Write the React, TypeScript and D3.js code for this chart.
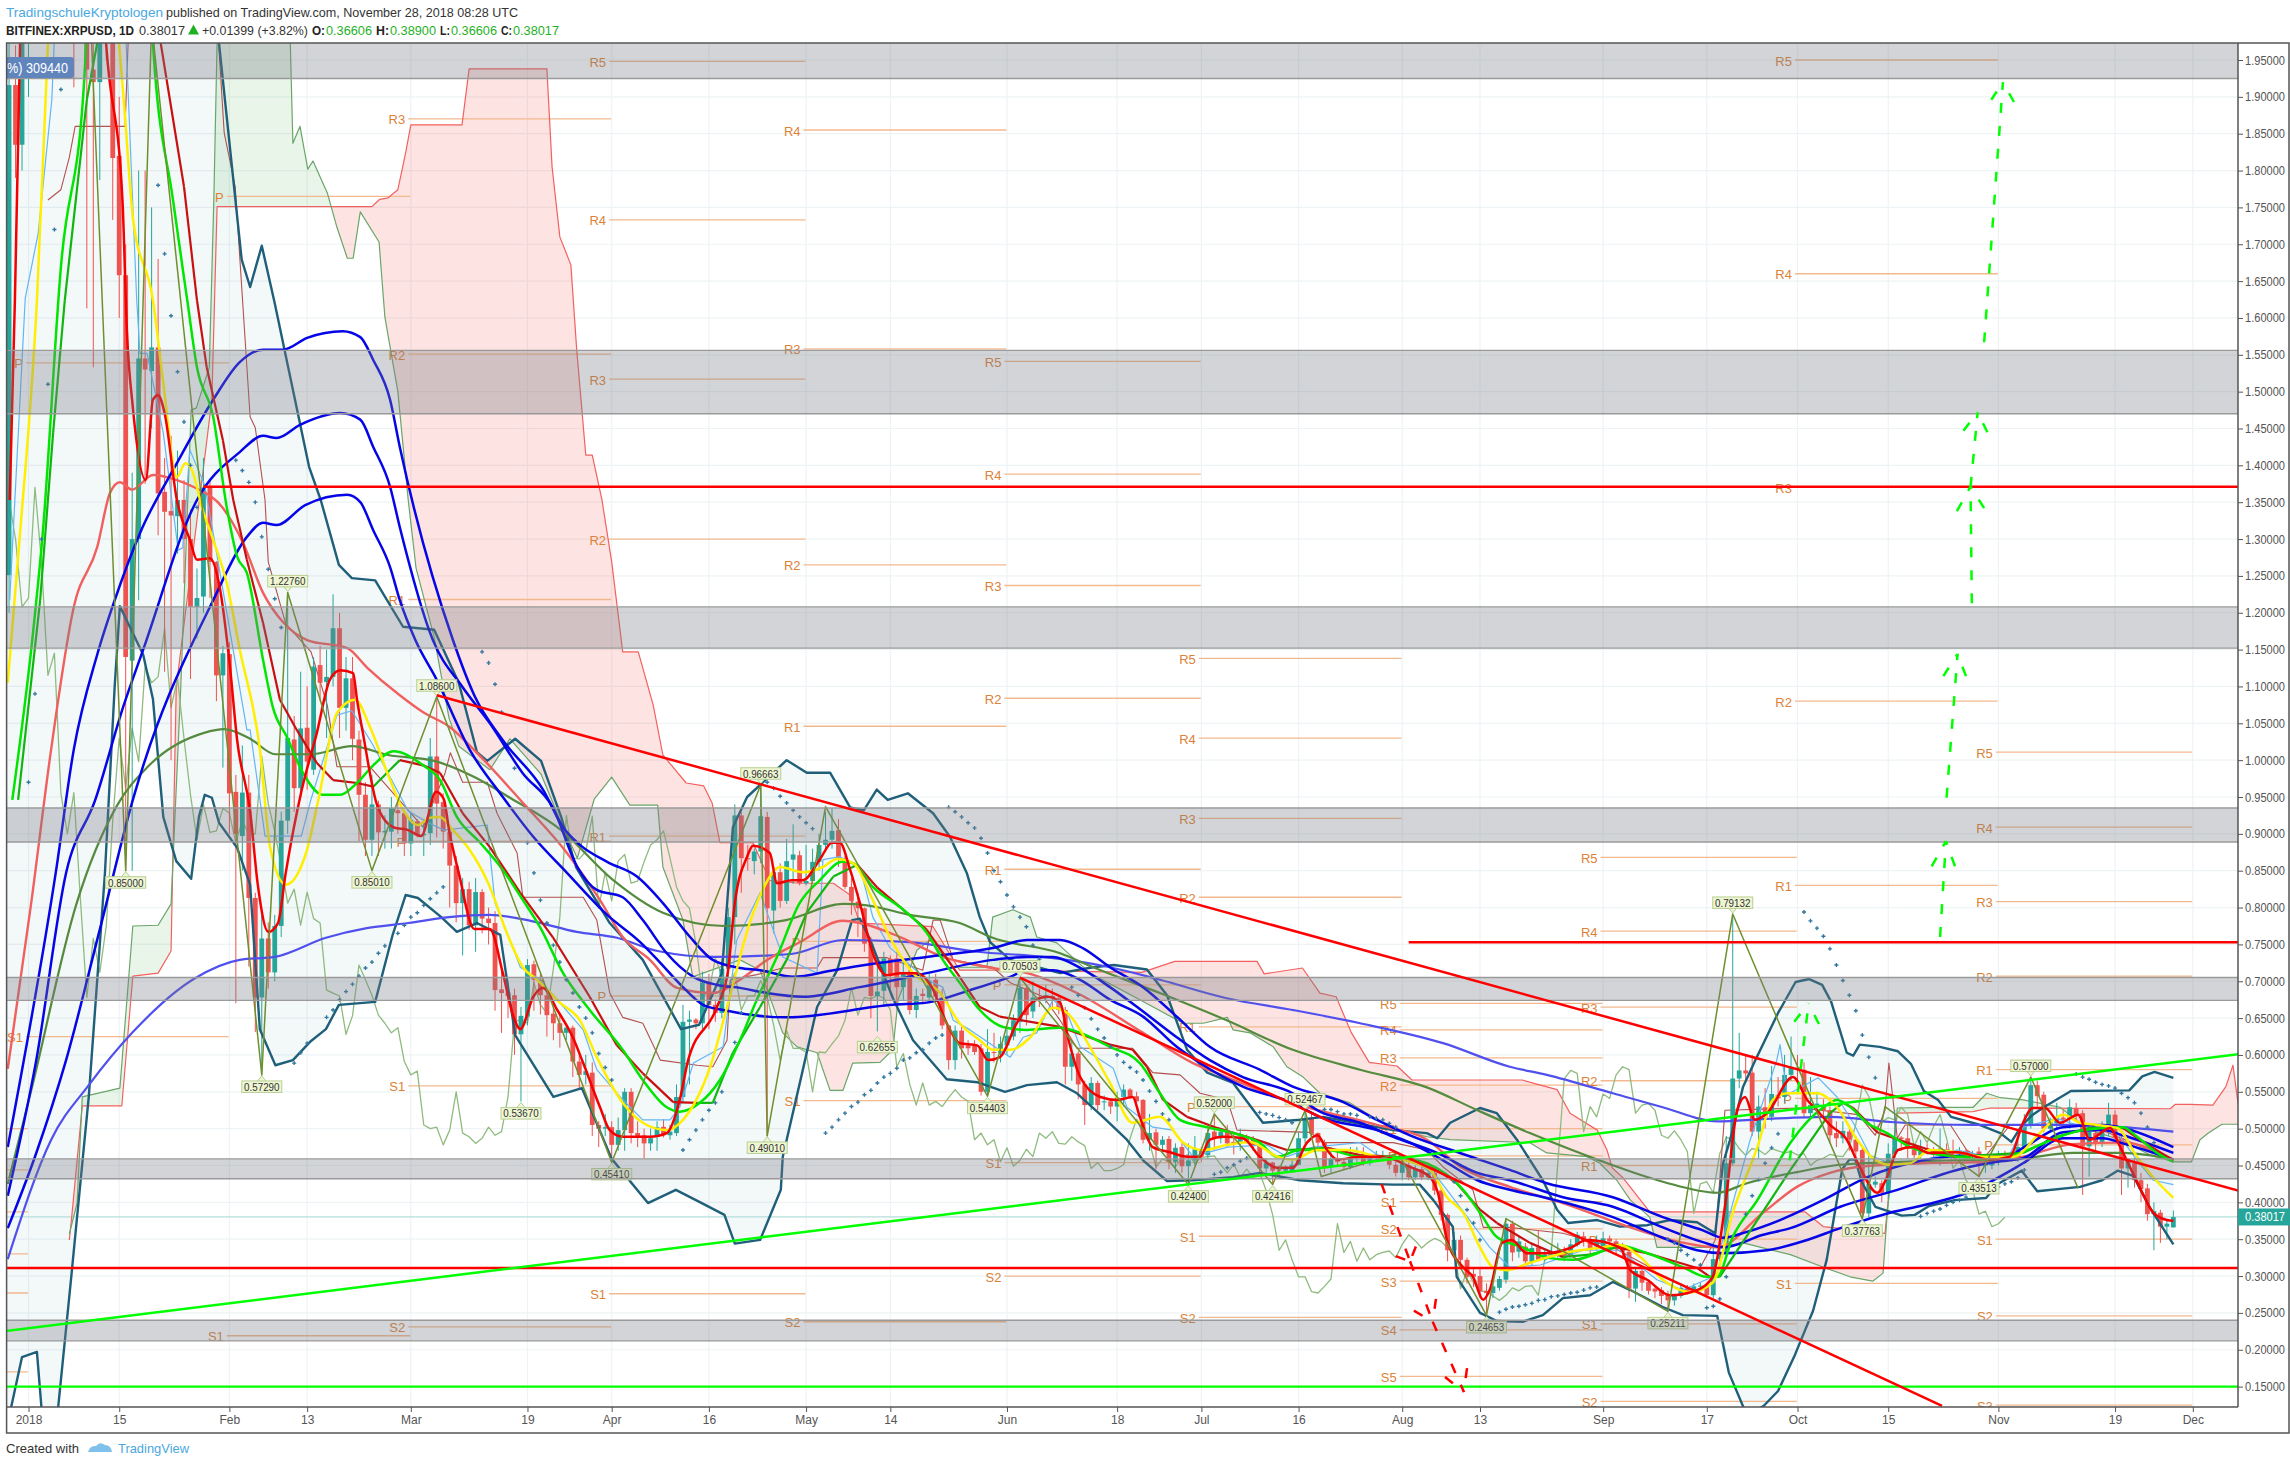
import React, { useEffect, useRef } from "react";
import * as d3 from "d3";

type Pt = [number, number];

// days are counted from Jan 1 2018 = 0
const firstCandleDay = -3;

const candleOpen = [
  1.251,1.916,1.835,1.98,2.3,2.45,2.9,3.05,3.1,2.95,
  3.0,2.4,2.2,1.937,1.92,2.05,2.05,1.82,1.658,1.135,
  1.30,1.545,1.528,1.56,1.364,1.338,1.331,1.353,1.30,1.208,
  1.222,1.37,1.269,1.115,1.144,.957,.897,.956,.813,.678,
  .758,.712,.775,.918,1.028,.962,1.044,.987,1.129,1.106,
  1.113,1.179,1.071,1.111,1.028,.953,.892,.940,.902,.903,
  .932,.928,.887,.917,.898,.901,1.005,.943,.903,.857,
  .806,.825,.776,.821,.785,.779,.689,.685,.681,.628,
  .652,.723,.702,.681,.656,.643,.630,.637,.591,.573,
  .576,.505,.500,.502,.478,.498,.550,.494,.491,.480,
  .489,.5025,.491,.494,.543,.645,.648,.643,.698,.668,
  .657,.717,.787,.925,.867,.863,.876,.923,.796,.848,
  .809,.865,.871,.833,.836,.862,.885,.892,.905,.867,
  .828,.808,.799,.751,.680,.687,.730,.731,.692,.711,
  .661,.683,.678,.702,.678,.640,.593,.633,.613,.613,
  .609,.550,.604,.603,.613,.625,.645,.691,.659,.678,
  .677,.680,.677,.661,.584,.602,.560,.532,.562,.537,
  .537,.530,.543,.553,.544,.539,.485,.495,.478,.486,
  .455,.475,.449,.457,.472,.464,.496,.487,.496,.482,
  .480,.489,.485,.478,.446,.454,.445,.443,.441,.451,
  .487,.513,.494,.481,.448,.459,.455,.448,.461,.464,
  .453,.461,.461,.462,.451,.440,.450,.434,.445,.434,
  .440,.416,.383,.335,.349,.322,.303,.300,.280,.277,
  .284,.295,.371,.333,.340,.319,.339,.322,.329,.332,
  .333,.327,.342,.354,.349,.340,.340,.351,.347,.342,
  .333,.283,.307,.292,.283,.281,.275,.267,.273,.284,
  .280,.286,.287,.274,.323,.331,.453,.568,.579,.576,
  .496,.529,.516,.546,.543,.573,.583,.580,.521,.532,
  .531,.525,.494,.487,.496,.485,.471,.385,.424,.426,
  .413,.466,.488,.487,.472,.464,.473,.470,.464,.472,
  .470,.466,.470,.464,.469,.450,.450,.457,.465,.466,
  .461,.473,.505,.559,.546,.500,.507,.515,.513,.528,
  .521,.476,.494,.482,.500,.519,.487,.446,.453,.430,
  .419,.384,.386,.367,.366,
];
const candleClose = [
  1.916,1.835,1.98,2.3,2.45,2.9,3.05,3.1,2.95,3.0,
  2.4,2.2,1.937,1.92,2.05,2.05,1.817,1.658,1.14,1.30,
  1.545,1.53,1.56,1.362,1.337,1.332,1.353,1.30,1.208,1.22,
  1.37,1.269,1.115,1.145,.955,.90,.956,.813,.678,.758,
  .712,.775,.918,1.03,.962,1.043,.998,1.127,1.105,1.113,
  1.179,1.071,1.111,1.029,.953,.892,.940,.902,.904,.935,
  .928,.887,.919,.898,.900,1.005,.941,.903,.857,.806,
  .825,.776,.821,.785,.779,.688,.684,.680,.628,.653,
  .722,.702,.681,.654,.643,.630,.637,.591,.573,.578,
  .505,.500,.502,.478,.498,.550,.494,.489,.480,.487,
  .502,.491,.496,.543,.645,.648,.643,.698,.668,.657,
  .717,.787,.925,.867,.866,.876,.924,.799,.848,.809,
  .863,.872,.833,.836,.862,.885,.892,.904,.867,.828,
  .809,.799,.751,.680,.686,.731,.708,.692,.711,.661,
  .680,.680,.701,.679,.640,.593,.633,.609,.609,.604,
  .550,.604,.603,.615,.626,.647,.691,.654,.678,.676,
  .681,.677,.661,.584,.602,.560,.532,.562,.532,.537,
  .530,.542,.553,.543,.537,.485,.494,.478,.485,.455,
  .474,.449,.457,.472,.462,.494,.487,.496,.480,.479,
  .489,.482,.477,.446,.454,.443,.443,.446,.451,.487,
  .513,.493,.481,.448,.459,.455,.448,.461,.465,.453,
  .461,.462,.463,.451,.440,.452,.434,.445,.434,.440,
  .416,.383,.335,.349,.322,.299,.299,.279,.277,.286,
  .296,.371,.332,.347,.320,.338,.322,.329,.332,.334,
  .325,.343,.356,.348,.338,.346,.351,.347,.338,.333,
  .283,.307,.291,.280,.279,.273,.267,.274,.284,.280,
  .286,.287,.274,.323,.331,.453,.568,.579,.575,.496,
  .530,.516,.547,.541,.573,.584,.580,.521,.532,.534,
  .525,.491,.487,.497,.485,.469,.385,.425,.428,.413,
  .466,.488,.486,.473,.464,.473,.471,.465,.473,.470,
  .467,.469,.464,.466,.450,.457,.460,.465,.463,.462,
  .475,.506,.559,.544,.500,.509,.515,.512,.529,.519,
  .476,.496,.481,.503,.519,.487,.446,.457,.430,.418,
  .384,.388,.367,.371,.380,
];
const candleHigh = [
  2.2,1.97,2.1,2.5,2.6,3.0,3.2,3.3,3.3,3.2,
  3.1,2.6,2.4,2.1,2.2,2.3,2.2,1.9,1.7,1.39,
  1.8,1.8,1.75,1.68,1.41,1.44,1.42,1.38,1.34,1.26,
  1.41,1.38,1.27,1.155,1.16,.98,1.02,.98,.82,.79,
  .78,.79,.93,1.2276,1.06,1.12,1.1,1.14,1.155,1.15,
  1.225,1.2,1.14,1.14,1.04,.97,.98,.945,.925,.95,
  .95,.93,.93,.92,.92,1.03,1.086,.955,.91,.87,
  .84,.835,.84,.825,.80,.795,.72,.70,.69,.665,
  .73,.728,.71,.69,.67,.655,.64,.64,.60,.60,
  .59,.51,.52,.51,.515,.555,.555,.51,.50,.50,
  .51,.513,.505,.56,.668,.66,.65,.713,.71,.675,
  .73,.80,.94,.93,.885,.88,.966,.93,.855,.86,
  .893,.913,.877,.885,.88,.90,.93,.935,.92,.87,
  .84,.82,.80,.76,.72,.74,.735,.74,.73,.72,
  .69,.69,.71,.71,.69,.64,.64,.64,.62,.62,
  .615,.635,.63,.625,.635,.655,.705,.695,.70,.69,
  .695,.69,.68,.665,.62,.605,.565,.57,.565,.545,
  .54,.55,.56,.555,.55,.54,.52,.50,.49,.49,
  .48,.48,.48,.49,.475,.50,.52,.50,.505,.495,
  .50,.492,.49,.48,.46,.455,.45,.45,.46,.495,
  .5247,.522,.495,.485,.475,.47,.46,.475,.475,.475,
  .465,.47,.47,.465,.455,.46,.455,.45,.448,.445,
  .443,.42,.385,.36,.355,.325,.31,.31,.29,.29,
  .30,.378,.375,.355,.345,.345,.362,.335,.34,.345,
  .34,.35,.36,.36,.352,.355,.36,.355,.35,.345,
  .34,.31,.31,.295,.285,.285,.28,.275,.29,.288,
  .29,.292,.29,.345,.35,.49,.79132,.63,.60,.60,
  .545,.555,.585,.57,.60,.625,.60,.59,.57,.55,
  .54,.53,.51,.51,.50,.49,.475,.465,.435,.43,
  .48,.525,.49,.505,.475,.485,.48,.475,.50,.48,
  .485,.475,.473,.47,.475,.46,.465,.47,.47,.47,
  .485,.52,.57,.565,.55,.515,.535,.525,.54,.535,
  .525,.505,.50,.51,.535,.525,.49,.46,.46,.44,
  .425,.40,.39,.375,.389,
];
const candleLow = [
  1.2,1.79,1.8,1.9,2.1,2.3,2.7,2.8,2.8,2.7,
  1.913,2.0,1.613,1.533,1.787,1.95,1.733,1.6,.85,.85,
  1.217,1.375,1.45,1.305,1.12,1.0,1.28,1.24,1.11,1.165,
  1.2,1.22,1.08,.99,.9,.67,.85,.72,.631,.573,
  .69,.70,.76,.90,.93,.95,.96,.98,1.08,1.03,
  1.10,1.03,1.04,1.0,.89,.87,.87,.87,.88,.88,
  .90,.87,.87,.895,.87,.885,.895,.88,.80,.78,
  .735,.77,.74,.765,.75,.66,.63,.65,.60,.5367,
  .64,.66,.655,.625,.62,.61,.62,.57,.555,.56,
  .49,.475,.49,.455,.47,.47,.48,.475,.46,.47,
  .47,.488,.485,.49,.535,.56,.635,.635,.635,.645,
  .65,.705,.75,.82,.85,.845,.86,.4901,.765,.80,
  .805,.832,.83,.83,.835,.85,.875,.88,.855,.825,
  .79,.76,.74,.65,.632,.665,.69,.67,.675,.655,
  .65,.67,.67,.675,.635,.58,.58,.595,.60,.60,
  .545,.5440,.59,.59,.60,.62,.63,.64,.65,.665,
  .67,.665,.655,.56,.565,.54,.505,.525,.525,.525,
  .52,.51,.53,.54,.53,.48,.47,.445,.47,.445,
  .44,.44,.424,.45,.455,.46,.47,.48,.475,.465,
  .47,.48,.47,.44,.44,.424,.435,.44,.44,.45,
  .48,.49,.475,.44,.44,.45,.445,.445,.455,.45,
  .45,.455,.458,.445,.435,.43,.43,.43,.43,.43,
  .41,.375,.32,.325,.31,.29,.285,.27,.2465,.27,
  .28,.29,.32,.325,.315,.315,.32,.32,.325,.325,
  .32,.325,.34,.34,.33,.335,.335,.34,.33,.325,
  .27,.265,.28,.275,.27,.262,.2521,.26,.27,.275,
  .278,.28,.27,.27,.32,.325,.45,.555,.565,.49,
  .46,.50,.51,.53,.535,.565,.56,.515,.515,.525,
  .515,.48,.475,.48,.47,.46,.3776,.38,.42,.40,
  .405,.46,.47,.46,.46,.46,.465,.46,.45,.465,
  .46,.46,.46,.455,.435,.44,.445,.45,.455,.455,
  .455,.47,.50,.53,.495,.495,.50,.505,.50,.51,
  .41,.435,.47,.475,.49,.485,.41,.42,.42,.40,
  .375,.335,.345,.35,.366,
];

const bollingerUpper: Pt[] = [[-4,4],[27,2.3],[29.4,1.973],[32.9,1.679],[34.2,1.642],[36,1.698],[38,1.62],[43.3,1.398],[45.1,1.353],[47.9,1.265],[49.9,1.247],[53.5,1.244],[57.8,1.181],[62.6,1.177],[66.4,1.105],[69.2,1.011],[70.8,.999],[75.1,1.029],[79.1,.999],[82.2,.923],[84.5,.855],[89.7,.779],[94.8,.729],[100.7,.635],[103.5,.641],[107,.711],[108.7,.909],[110.9,.95],[117,1.0],[120.1,.983],[123.7,.983],[126.8,.936],[128.9,.932],[130.9,.96],[132.6,.946],[135.7,.955],[139.6,.928],[142.2,.896],[144.8,.847],[146.8,.787],[148.4,.753],[151.5,.729],[159.2,.711],[164.3,.719],[167.5,.722],[172.6,.716],[175.7,.681],[178.8,.607],[181.9,.576],[185.9,.562],[190.5,.508],[196.2,.512],[199.8,.516],[210.6,.498],[215.8,.494],[217.4,.487],[219.4,.508],[224,.528],[226.6,.521],[229.7,.485],[233.7,.43],[235.9,.39],[237.6,.372],[242.1,.376],[245.6,.367],[249.8,.369],[253.3,.376],[257.5,.373],[260.3,.358],[261.5,.453],[262.6,.485],[264.6,.557],[266.5,.593],[270,.657],[272.7,.699],[274.8,.703],[276.8,.695],[278.2,.672],[280.6,.603],[281.6,.599],[282.6,.614],[285.7,.611],[288.5,.605],[290.5,.588],[292.5,.551],[294.7,.539],[296.7,.516],[300.8,.506],[304.3,.494],[306,.482],[307.6,.504],[309.3,.519],[311,.529],[315.2,.551],[324.2,.552],[326.2,.571],[328.1,.577],[331,.569]];
const bollingerLower: Pt[] = [[-4,.09],[-2.8,.117],[-1,.19],[1.3,.197],[2.2,.10],[3.4,.09],[4.5,.115],[6.6,.299],[9.3,.543],[11.8,.847],[13.3,1.1],[14.1,1.209],[17.7,1.143],[19.2,1.083],[20.8,.923],[22.8,.863],[25.1,.839],[26.3,.923],[27.2,.953],[28.3,.949],[29.4,.915],[32.2,.881],[34.2,.831],[35.7,.635],[38.1,.586],[40.8,.593],[43.6,.619],[45.9,.635],[47.9,.668],[53.5,.672],[56.2,.763],[58.2,.817],[60.1,.813],[63.7,.787],[66.1,.767],[69.2,.779],[72.8,.763],[75.1,.627],[81,.543],[85.4,.555],[90,.459],[95.6,.399],[99.9,.417],[103.9,.399],[107.4,.383],[109,.344],[112.9,.349],[116.1,.417],[116.4,.462],[119.4,.576],[121.7,.665],[124.8,.715],[127.1,.783],[128.3,.785],[129.9,.756],[133.4,.677],[136.5,.62],[141.7,.567],[146.4,.563],[150.7,.55],[154.1,.559],[158.7,.563],[161.8,.548],[165.8,.516],[169.5,.485],[172,.457],[175.7,.429],[179.7,.43],[185.9,.434],[190,.44],[196.2,.43],[202.9,.426],[210.6,.424],[214.7,.424],[216.8,.403],[219.8,.367],[220.4,.299],[224,.25],[226.6,.239],[230.6,.238],[233.7,.247],[236.8,.27],[241,.274],[244.5,.292],[247.2,.281],[252.2,.258],[255.3,.247],[260.6,.246],[262.4,.169],[264.7,.121],[266.3,.116],[267.8,.124],[270,.144],[272.6,.193],[275.4,.253],[277.5,.322],[279.9,.445],[281,.458],[281.9,.458],[282.9,.428],[285,.394],[289.1,.382],[291.1,.383],[293.3,.395],[297.3,.403],[302.1,.406],[303.9,.425],[307.6,.443],[310,.415],[316.6,.421],[320,.43],[322.4,.443],[324.8,.436],[327.5,.391],[331,.343]];

const blueUpper: Pt[] = [[-3.2,.475],[4.2,.847],[7,1.015],[10.6,1.143],[13.3,1.217],[17.2,1.308],[22.9,1.403],[28.5,1.489],[32.6,1.54],[36.2,1.557],[39.3,1.557],[43,1.573],[48.5,1.582],[51.2,1.574],[53.2,1.543],[55.8,1.489],[57.3,1.425],[65.5,1.163],[68.9,1.086],[73.2,1.027],[79.4,.96],[82.5,.909],[85.1,.885],[89.3,.862],[93.9,.842],[97.9,.806],[102.1,.76],[105.6,.729],[109.8,.718],[112.9,.715],[118,.706],[124.2,.715],[131.4,.725],[138.6,.733],[148.8,.745],[154.1,.756],[159.2,.756],[162.7,.745],[166.9,.719],[172,.692],[177.2,.652],[182.3,.611],[190,.58],[195.1,.557],[202.9,.536],[208.1,.512],[213.2,.491],[220.9,.467],[228.6,.444],[234.3,.426],[244.5,.407],[252.2,.38],[258.4,.362],[261.5,.352],[265.2,.36],[270.3,.376],[276.9,.403],[283.7,.434],[292.4,.457],[300.1,.464],[305.3,.462],[307.8,.474],[314,.502],[320.1,.505],[323.2,.501],[331,.475]];
const blueMiddle: Pt[] = [[-3.2,.409],[1.2,.593],[5.8,.847],[10.3,.946],[14.6,1.072],[17.7,1.15],[26,1.353],[32.6,1.418],[36.2,1.44],[38.3,1.437],[41.9,1.455],[48.1,1.471],[51.2,1.462],[53.2,1.425],[55.8,1.371],[57.3,1.316],[62.4,1.163],[67,1.099],[71.2,1.05],[76.3,.982],[80.9,.936],[84.7,.855],[87.7,.824],[91.7,.814],[94.8,.783],[98.5,.738],[102.6,.706],[106.3,.695],[109.8,.691],[114,.684],[119.5,.679],[128.3,.692],[138.6,.711],[148.8,.729],[154.1,.733],[158.1,.733],[162.3,.718],[166.9,.692],[171.1,.665],[177.2,.624],[182.3,.593],[187.4,.57],[195.1,.548],[199.3,.523],[205.5,.508],[210.6,.489],[217.4,.467],[223.6,.44],[228.6,.43],[236.8,.407],[244.5,.394],[252.2,.366],[258.4,.346],[261.5,.339],[267.7,.356],[271.9,.365],[279.6,.394],[288.4,.417],[297.6,.444],[303.8,.455],[307.8,.46],[314,.495],[320.1,.498],[323.2,.491],[331,.467]];
const blueLower: Pt[] = [[-3.2,.365],[1.2,.467],[5.8,.593],[11,.77],[16.1,.946],[28.5,1.217],[33.7,1.303],[36.2,1.322],[38.3,1.319],[42.7,1.346],[49.2,1.36],[51.2,1.35],[53.2,1.312],[55.8,1.262],[57.3,1.217],[59.7,1.163],[63,1.109],[68.1,1.014],[73.2,.95],[77.9,.896],[83.1,.847],[89.3,.79],[94.4,.753],[97.5,.725],[101,.692],[104.1,.668],[107.2,.661],[117,.651],[133.4,.668],[138.6,.671],[145.3,.688],[151.5,.706],[154.1,.715],[158.1,.715],[162.3,.702],[166.9,.675],[172,.652],[177.2,.611],[180.8,.589],[187.4,.557],[195.1,.535],[199.3,.516],[208.1,.498],[213.2,.481],[218.3,.457],[223.6,.43],[228.6,.417],[234.3,.406],[244.5,.38],[252.2,.352],[257.5,.335],[261.5,.331],[268.3,.335],[274.5,.349],[279.6,.365],[287.3,.386],[292.4,.396],[299.2,.413],[307.8,.453],[314,.487],[320.1,.487],[323.2,.48],[331,.458]];

const violetAverage: Pt[] = [[-3.2,.323],[3.5,.485],[9.3,.559],[16.1,.631],[25.5,.703],[32.6,.729],[38,.733],[45.9,.759],[52.2,.772],[58.6,.779],[64.9,.787],[71.2,.79],[77.5,.782],[84.6,.767],[90.8,.759],[97.1,.741],[105.8,.733],[117.7,.737],[125.7,.756],[136,.753],[146.4,.74],[156.6,.733],[166.9,.719],[174.6,.702],[184.9,.677],[195.1,.661],[205.5,.643],[218.3,.616],[228.6,.584],[234.3,.573],[244.5,.548],[252.2,.529],[260.6,.51],[267.7,.513],[278,.516],[287.3,.509],[300.1,.505],[318.1,.505],[323.2,.502],[331,.496]];
const oliveAverage: Pt[] = [[-3.2,.425],[.4,.551],[7.4,.805],[13.7,.939],[18.4,.991],[27.1,1.037],[30.2,1.042],[34.2,1.029],[38.1,1.008],[43.6,1.008],[49.9,1.019],[55.5,1.007],[62.6,.999],[68.8,.977],[74.3,.949],[82.2,.905],[90,.839],[97.9,.793],[107.4,.775],[116.9,.783],[125.7,.805],[129.4,.803],[136,.79],[143.7,.779],[148.8,.759],[159.2,.738],[164.3,.719],[174.6,.684],[184.9,.647],[195.1,.607],[205.5,.58],[215.8,.556],[223.6,.525],[231.7,.494],[242.1,.458],[252.2,.428],[260.6,.413],[265.2,.426],[272.9,.441],[279.6,.451],[292.4,.456],[307.8,.46],[315.5,.467],[323.2,.467],[331,.458]];
const salmonAverage: Pt[] = [[-3.2,.581],[.4,.805],[3.5,1.015],[7,1.208],[10.6,1.289],[12.6,1.363],[14.1,1.377],[16,1.367],[19.2,1.387],[22.9,1.38],[25.4,1.371],[30,1.342],[33.1,1.295],[36.2,1.227],[39.3,1.187],[43,1.163],[49.2,1.152],[52.2,1.126],[57.3,1.088],[60.9,1.065],[65,1.045],[69.2,1.01],[76.3,.942],[83.1,.874],[88.2,.81],[91.7,.76],[95.9,.729],[100.1,.691],[105.6,.684],[109.8,.702],[114,.729],[119,.753],[125.7,.782],[128.3,.779],[134.5,.76],[141.1,.733],[148.8,.718],[154.1,.711],[161.8,.684],[172,.63],[179.7,.589],[184.9,.57],[195.1,.535],[208.1,.505],[215.8,.485],[221,.448],[228.6,.421],[236.8,.399],[247.2,.366],[254.9,.346],[260.6,.339],[267.7,.386],[272.9,.421],[278,.44],[282.2,.448],[292.4,.453],[302.7,.455],[307.8,.462],[315.5,.479],[323.2,.481],[331,.458]];

const fastRed: Pt[] = [[-2.9,1.353],[-2.1,1.624],[-1.3,1.973],[1,3.0],[6,3.2],[9,2.5],[12,1.97],[14.5,1.76],[15.2,1.58],[16.1,1.479],[18.1,1.38],[19.2,1.489],[20,1.495],[21,1.471],[22.9,1.353],[24.9,1.299],[26,1.272],[28,1.274],[29.5,1.235],[31.1,1.126],[32.2,1.027],[34.2,.931],[35.4,.83],[37,.767],[38.5,.779],[39.7,.847],[42.1,.957],[44.5,1.037],[46.5,1.109],[48.1,1.122],[50.1,1.118],[50.7,1.082],[51.6,1.037],[53.8,.939],[56.3,.909],[58.6,.905],[60.6,.897],[62.9,.957],[64.1,.947],[64.9,.905],[66.4,.847],[68.8,.771],[71.2,.771],[73.2,.711],[74.8,.653],[75.9,.635],[77.9,.679],[79.4,.691],[81.6,.661],[84,.624],[85.6,.589],[88.2,.529],[89.7,.498],[91.7,.489],[95.9,.489],[98.5,.494],[100.5,.539],[101.8,.593],[106.2,.664],[107.9,.711],[109,.806],[110.9,.869],[111.8,.884],[114.4,.874],[115.5,.833],[117.8,.837],[119.5,.837],[122.1,.865],[124,.888],[125.2,.888],[126.8,.851],[128.3,.806],[130.3,.738],[132.5,.708],[134.5,.711],[137.1,.711],[139.4,.692],[141.7,.643],[143.7,.616],[146.4,.613],[148.1,.593],[149.9,.597],[152.5,.643],[155,.672],[157.3,.679],[159.2,.671],[160.4,.624],[162.3,.57],[165.4,.543],[168,.539],[170.4,.543],[171.5,.516],[173.5,.475],[176.2,.468],[178.8,.462],[180.8,.462],[182.3,.485],[184.3,.489],[187.4,.487],[190,.462],[192.7,.447],[195.1,.447],[197.3,.481],[198.9,.491],[200.4,.471],[202,.458],[205.5,.462],[209,.462],[213.2,.448],[216.3,.434],[217.5,.413],[218.9,.349],[221.4,.312],[222.9,.299],[224.5,.268],[225.5,.281],[227.4,.345],[228.9,.349],[231.2,.331],[234.3,.331],[237.9,.338],[240.5,.349],[245.6,.339],[247.2,.308],[249.8,.295],[253.3,.274],[257.5,.281],[259.9,.299],[261.8,.394],[263.7,.525],[264.9,.543],[266.4,.512],[268.3,.521],[272.3,.57],[274.5,.539],[276,.525],[278,.505],[280.6,.485],[282.6,.448],[285.3,.413],[286.8,.434],[288.5,.471],[290.8,.475],[293.4,.467],[297.6,.468],[302.7,.458],[305.8,.462],[307.8,.508],[309.3,.528],[311.2,.528],[313.5,.508],[316.3,.519],[318.1,.485],[321.2,.501],[322.8,.475],[325.4,.428],[327.9,.386],[330,.376],[331,.375]];
const limeAverage: Pt[] = [[-2.5,.946],[.7,1.173],[2.2,1.308],[5,1.669],[8.6,1.923],[9.8,2.2],[16,2.9],[19.2,1.973],[22.3,1.76],[24.5,1.624],[26,1.533],[28.5,1.466],[30.6,1.343],[32.2,1.276],[33.7,1.254],[36.2,1.136],[37.7,1.072],[39.9,1.031],[42.4,.982],[45.4,.953],[48.1,.953],[50.7,.969],[53.2,.993],[56.3,1.012],[60.9,.993],[63.5,.973],[66.1,.923],[69.7,.888],[73.2,.851],[76.3,.81],[78.9,.774],[82.5,.711],[86.6,.661],[91.7,.607],[94.8,.566],[98.5,.529],[100.5,.523],[103.6,.535],[106.7,.566],[109.8,.62],[112.4,.675],[115.5,.733],[119,.806],[122.1,.837],[125.6,.862],[127.3,.86],[130.3,.828],[135,.797],[138.6,.766],[141.1,.729],[143.7,.698],[146.8,.661],[150.4,.638],[154.1,.634],[159.2,.637],[162.3,.63],[166.9,.611],[171.5,.589],[174.6,.548],[177.7,.512],[181.9,.502],[185.9,.494],[190,.481],[192.7,.462],[196.2,.471],[200.4,.471],[205.5,.462],[210.6,.462],[215.8,.453],[221.4,.417],[224,.386],[226.6,.353],[230.6,.339],[234.3,.325],[238.4,.322],[242.1,.331],[245.1,.342],[249.8,.331],[255.3,.312],[259,.299],[260.6,.299],[263,.353],[266.8,.403],[271.9,.481],[277,.529],[279.1,.539],[281.2,.529],[283.7,.508],[286.8,.494],[290.4,.475],[293.4,.467],[297.6,.462],[302.7,.458],[306.3,.464],[310.4,.478],[314,.491],[317.1,.498],[323.2,.502],[325.4,.489],[328.5,.467],[331,.455]];
// red while falling, green while rising
const slowAverage: Pt[] = [[-1.6,.946],[1.8,1.217],[3.8,1.444],[5.6,1.624],[9,1.896],[10.6,1.973],[15.5,2.6],[20.4,1.973],[24,1.778],[26,1.624],[27.5,1.533],[30,1.434],[31.6,1.353],[33.7,1.272],[36.2,1.186],[38.8,1.082],[41.4,1.041],[44.5,.996],[47,.973],[50.7,.969],[53.2,.964],[55.8,.987],[57.3,1.0],[60.9,.993],[63.5,.983],[67,.928],[71.2,.882],[75.9,.82],[80.9,.76],[86.6,.679],[90.8,.613],[94.8,.575],[99.5,.536],[103.2,.535],[105.6,.535],[108.7,.603],[112.9,.665],[117,.729],[120.1,.793],[124.2,.842],[127.9,.858],[131,.827],[138.6,.77],[143.7,.706],[146.8,.665],[149.9,.652],[159.2,.638],[166.9,.614],[170.4,.607],[172.6,.584],[175.1,.539],[178.8,.516],[183.4,.501],[188,.489],[190.5,.482],[194.2,.471],[200.4,.474],[205.5,.464],[210.6,.462],[215.8,.453],[220.4,.426],[224,.39],[226.6,.372],[231.7,.345],[236.8,.326],[241,.329],[245.1,.339],[249.8,.331],[257.5,.311],[259.5,.299],[261,.299],[266.8,.376],[271.9,.444],[278,.521],[280,.535],[281.6,.528],[285.3,.495],[289.9,.481],[293.4,.471],[297.6,.462],[307.8,.467],[313,.489],[318.1,.501],[323.2,.501],[325.8,.485],[331,.457]];
const yellowAverage: Pt[] = [[-3.2,1.105],[-1.3,1.308],[1.3,1.624],[3,1.973],[8,2.9],[12,2.2],[14.9,1.873],[16.1,1.737],[19.2,1.624],[20.8,1.512],[22.9,1.384],[24.2,1.403],[25.2,1.394],[26.9,1.339],[28.5,1.299],[30.6,1.24],[32.6,1.15],[35.7,1.015],[37.3,.881],[39.7,.831],[42.8,.873],[44.8,.949],[47.6,1.064],[50.4,1.082],[52.7,1.045],[55.8,.973],[57.6,.936],[60.1,.912],[62,.922],[63.5,.923],[65.5,.905],[68.1,.878],[71.2,.828],[73.8,.766],[76.3,.719],[78.5,.702],[82,.671],[85.1,.647],[87.7,.597],[91.7,.535],[94.8,.508],[98.5,.498],[101,.512],[105.2,.584],[107.8,.665],[111.3,.779],[113.3,.824],[116,.855],[119.5,.848],[122.6,.855],[124.8,.866],[127.3,.86],[130.3,.81],[133.4,.752],[136.5,.711],[140.7,.684],[143.7,.643],[146.8,.62],[148.8,.607],[151.5,.607],[154.6,.624],[158.1,.664],[160.3,.657],[163.8,.611],[166.9,.562],[170.4,.508],[174.6,.516],[178.2,.481],[181.3,.471],[185,.478],[188.5,.482],[192.7,.462],[195.1,.458],[198.9,.471],[203.5,.471],[208.1,.462],[213.2,.455],[216.3,.444],[218.9,.407],[221.4,.386],[224,.339],[226,.312],[228.2,.308],[231.7,.318],[236.8,.331],[242.1,.338],[245.6,.342],[248.7,.326],[252.2,.295],[256.4,.278],[259.9,.291],[263,.386],[266.8,.475],[269.2,.539],[271.4,.548],[276,.548],[279.1,.529],[282.2,.485],[284.6,.46],[287.3,.451],[290.4,.453],[293.4,.471],[297.6,.468],[301.6,.462],[306.3,.462],[310.4,.494],[314,.519],[316.6,.508],[319.2,.505],[322.3,.501],[325.4,.462],[327.9,.434],[331,.406]];
const lightBlueLine: Pt[] = [[-2.9,1.217],[-.5,1.627],[1.5,1.715],[3.6,1.896],[6,2.4],[14,2.2],[16.7,1.624],[17.2,1.552],[18.3,1.552],[20.8,1.444],[23.1,1.285],[23.8,1.288],[24.9,1.421],[27.2,1.373],[28.5,1.308],[33.7,1.041],[34.2,1.041],[36.5,.897],[42.1,.897],[43.6,.947],[47.6,1.061],[49.9,1.067],[53,1.023],[58.6,.931],[61.7,.915],[64.1,.905],[70.8,.912],[71.2,.874],[72,.806],[74.3,.756],[75.9,.719],[78.9,.702],[81.6,.675],[85.6,.634],[87.7,.58],[91.3,.543],[94.8,.512],[99,.512],[100.5,.529],[102.6,.589],[107.2,.611],[109.3,.756],[112.9,.82],[116.4,.733],[121.7,.711],[122.6,.865],[125.2,.869],[128.3,.855],[130.3,.787],[132.9,.746],[138.6,.702],[141.1,.692],[142.7,.647],[145.3,.634],[151.5,.597],[153.5,.624],[155.6,.63],[158.1,.675],[160.3,.657],[162.3,.611],[167.4,.582],[169.5,.529],[173.5,.502],[176.6,.498],[179.7,.462],[185,.475],[191.1,.478],[194.2,.462],[198.2,.475],[205.5,.481],[208.6,.462],[213.7,.457],[217.4,.434],[218.9,.417],[222.4,.376],[225.5,.339],[228.6,.312],[233.3,.315],[239.9,.335],[245.6,.335],[251.3,.295],[255.3,.281],[259.9,.299],[265.7,.485],[269.8,.593],[270.3,.614],[271.4,.546],[276.2,.569],[279.1,.543],[281.6,.508],[284.2,.464],[287.3,.453],[292.4,.457],[297.6,.471],[305.3,.457],[307.8,.502],[313,.514],[317.1,.502],[322.3,.495],[325.4,.457],[327.9,.43],[331,.424]];
const baseLine: Pt[] = [[3,1.76],[5,1.774],[6.3,1.818],[7.2,1.86],[14.9,1.86],[15.7,2.05],[28.8,2.05],[30.2,1.851],[31.9,1.778],[34.2,1.466],[35,1.451],[36.5,1.353],[37,1.269],[39.7,1.185],[43.6,1.147],[46.1,1.075],[47.6,.991],[52.7,.991],[60.9,.909],[64.3,.983],[65.1,1.01],[67,.97],[70.8,.97],[72.3,.928],[75.4,.874],[76.3,.814],[85.6,.814],[87.7,.783],[89.7,.684],[91.7,.651],[94.8,.643],[97.5,.593],[103.2,.586],[105.6,.584],[107.8,.62],[108.3,.702],[112.4,.709],[116.4,.718],[121.7,.718],[122.6,.732],[132.5,.732],[138,.715],[139.6,.783],[140.7,.783],[142.7,.729],[148.8,.719],[151.5,.698],[156.6,.679],[159.2,.647],[161.8,.609],[170.4,.609],[173.5,.576],[177.7,.573],[180.8,.548],[185,.539],[186.5,.498],[197.8,.495],[199.8,.481],[210.6,.481],[215.8,.471],[218.3,.448],[222.9,.417],[224.5,.366],[228.6,.366],[236.8,.358],[244.5,.339],[250.2,.312],[258,.312],[260.3,.349],[261.8,.525],[273.4,.528],[282.4,.519],[285,.491],[286.5,.525],[287.1,.589],[288.4,.487],[289.6,.505],[296.6,.505],[299.1,.471],[301.6,.458],[305.8,.505],[318.1,.505],[331,.457]];

const cloudLeadB: Pt[] = [[6.3,.349],[6.7,.383],[8.3,.531],[14.4,.531],[16.1,.707],[20,.711],[22,.741],[22.8,1.099],[28.3,1.489],[29.1,1.751],[53,1.751],[54.2,1.761],[55.5,1.763],[57,1.774],[58.2,1.824],[59,1.862],[66.9,1.862],[68,1.938],[80,1.938],[80.8,1.805],[82,1.71],[83.7,1.672],[84.6,1.557],[86,1.414],[87,1.414],[88.5,1.353],[90,1.269],[91.7,1.147],[94.1,1.147],[96.4,1.075],[97.9,1.007],[101.5,.969],[104.2,.965],[105.5,.942],[106.7,.888],[111.8,.888],[114.4,.837],[119,.833],[124.2,.833],[126.8,.817],[128.3,.779],[139.6,.774],[143.7,.715],[150.7,.715],[171.8,.712],[176.9,.727],[189.6,.727],[190.7,.71],[196.6,.718],[199.3,.684],[201.8,.679],[204.1,.631],[206.9,.59],[211.2,.585],[213.5,.566],[230.5,.566],[235.9,.553],[237.9,.521],[242.1,.498],[243.6,.471],[244.4,.447],[246.1,.433],[250.2,.387],[274.2,.387],[277,.367],[286.5,.358],[287.6,.458],[288.4,.521],[300.1,.523],[302.7,.528],[330.5,.527],[331.3,.533],[333.6,.533],[337.1,.532],[339.1,.557],[340.2,.586],[341,.533]];
const cloudLeadA: Pt[] = [[6.3,.357],[7.5,.399],[8.3,.543],[14.1,.555],[16.1,.775],[20,.776],[22,.805],[23.5,1.099],[25.1,1.475],[25.9,1.478],[27.9,1.533],[28.6,1.76],[29.1,1.973],[30.3,2.03],[39.6,2.03],[40.4,1.973],[40.8,1.837],[41.9,1.86],[43.1,1.802],[43.9,1.813],[46.1,1.77],[47.6,1.723],[49.2,1.681],[50.1,1.681],[51.2,1.744],[54.1,1.703],[55,1.601],[57,1.5],[58.6,1.353],[59.8,1.261],[62.6,1.167],[64.9,1.057],[66.4,1.019],[71.2,.987],[74.3,1.029],[79.1,.981],[82.2,.915],[84.7,.867],[87.3,.947],[90,.977],[92.8,.939],[97.1,.939],[97.9,.855],[101,.783],[102.5,.706],[109.8,.729],[112.9,.715],[116.4,.63],[118.6,.611],[121.7,.603],[123.7,.552],[125.7,.552],[127.2,.589],[131.4,.59],[133.4,.607],[134.2,.675],[137.1,.742],[139.1,.756],[142.7,.719],[147.9,.719],[148.8,.787],[151.9,.797],[154.6,.787],[155.6,.76],[158.7,.752],[163.8,.711],[171.5,.675],[178.2,.643],[181.3,.643],[185,.651],[185.9,.634],[188.5,.63],[192.1,.611],[194.2,.584],[196.7,.57],[199.3,.548],[203.9,.535],[208.1,.512],[211.7,.498],[215.8,.489],[219.4,.485],[231.7,.481],[234.3,.467],[240.5,.462],[242.5,.453],[245.1,.43],[247.2,.403],[250.2,.38],[251.3,.339],[260.6,.339],[264.6,.345],[271.9,.329],[277,.312],[281.1,.299],[284.6,.293],[286.2,.304],[286.8,.38],[288.4,.528],[294.5,.529],[300.1,.529],[302.2,.548],[304.3,.542],[307.8,.539],[313.5,.529],[318.1,.498],[322.8,.485],[327.5,.464],[331.1,.455],[333.8,.455],[335.1,.485],[336.4,.494],[338.5,.506],[341,.506]];

const zigzag: Pt[] = [[4,3.2],[15,.85],[19,2.0],[36,.5729],[40,1.2276],[53,.8501],[63,1.086],[90,.4541],[113,.96663],[114,.4901],[123,.937],[148,.54403],[153,.70503],[179,.424],[183,.52],[192,.42416],[197,.52467],[199.5,.435],[211.4,.4665],[225,.24653],[228,.378],[253,.25211],[263,.79132],[283,.37763],[286.5,.53],[301,.43513],[309,.57],[316.3,.419]];
const peakLabels: Pt[] = [[40,1.2276],[63,1.086],[113,.96663],[153,.70503],[183,.52],[197,.52467],[263,.79132],[309,.57]];
const troughLabels: Pt[] = [[15,.85],[36,.5729],[53,.8501],[76,.5367],[90,.4541],[114,.4901],[131,.62655],[148,.54403],[179,.424],[192,.42416],[225,.24653],[253,.25211],[283,.37763],[301,.43513]];

// parabolic dots: first day of a run, then one value per day
const sarRuns: [number, number[]][] = [
  [0,[.97,1.09,1.3,1.51,1.72,1.91]],
  [20,[1.78,1.687,1.603,1.527,1.459,1.4,1.343]],
  [32,[1.407,1.393,1.377,1.35,1.303,1.259,1.219,1.18]],
  [41,[.589,.603,.616]],
  [46,[.651,.661,.675,.686,.696,.707,.718,.726,.738,.748]],
  [57,[.765,.776,.787,.793,.803,.812,.82,.828]],
  [70,[1.147,1.132,1.103,1.065]],
  [75,[.989]],
  [77,[.888,.847,.81,.779,.749,.726,.702,.684,.665,.65,.63,.602,.583,.566]],
  [101,[.471,.485,.498,.512,.525,.535,.55]],
  [109,[.617,.657]],
  [114,[.97,.962,.951,.942,.932,.923,.915,.907]],
  [123,[.494,.502,.512,.521,.53,.536,.546,.552,.562,.57,.575,.582,.593,.596,.603,.607,.616,.623,.627]],
  [142,[.936,.93,.923,.915,.908,.894,.874,.85,.835,.817,.801,.787,.774,.749,.73]],
  [161,[.692,.681,.664,.649,.635,.623,.611,.6,.59,.583,.577,.566,.551,.537,.52,.512]],
  [183,[.438,.441,.447,.451,.456,.46]],
  [190,[.522,.52,.518,.515,.512,.508]],
  [200,[.526,.526,.523,.52,.52,.518]],
  [207,[.516,.514,.512,.507,.502]],
  [220,[.428,.409,.39,.372,.349]],
  [227,[.251,.255,.258,.259,.261,.263,.267,.268,.272,.273,.275,.277,.278,.281,.284,.285]],
  [253,[.35,.345,.335,.329,.322,.315]],
  [259,[.257,.259,.269,.299]],
  [265,[.384,.409,.431,.453,.474,.493]],
  [274,[.794,.782,.772,.761,.744,.722,.701,.681,.66,.627,.597,.569]],
  [292,[.381,.385,.388,.391,.396,.4,.403,.407]],
  [304,[.421,.425,.428,.433,.444]],
  [316,[.574,.57,.567,.563,.56,.558,.555,.548,.542,.535,.521,.502,.481]],
];

const zones: Pt[] = [[1.925,2.05],[1.47,1.556],[1.152,1.208],[.889,.935],[.674,.705],[.432,.459],[.212,.24]];

// start day, end day, names, values
const pivotPeriods: [number, number, string[], number[]][] = [
  [-5,0,["","","","","",""],[.5,.444,.387,.33,.277,.17]],
  [0,31,["P","S1"],[1.539,.625]],
  [31,59,["P","S1"],[1.765,.219]],
  [59,90,["R3","R2","R1","P","S1","S2"],[1.87,1.551,1.218,.89,.558,.231]],
  [90,120,["R5","R4","R3","R2","R1","P","S1"],[1.948,1.733,1.517,1.3,.897,.68,.276]],
  [120,151,["R4","R3","R2","R1","P","S1","S2"],[1.855,1.558,1.265,1.046,.754,.538,.238]],
  [151,181,["R5","R4","R3","R2","R1","P","S1","S2"],[1.541,1.388,1.237,1.084,.852,.695,.454,.3]],
  [181,212,["R5","R4","R3","R2","R1","P","S1","S2"],[1.138,1.03,.921,.814,.638,.53,.354,.244]],
  [212,243,["R5","R4","R3","R2","R1","P","S1","S2","S3","S4","S5"],[.67,.634,.596,.559,.5,.463,.401,.364,.293,.227,.164]],
  [243,273,["R5","R4","R3","R2","R1","P","S1","S2"],[.868,.768,.665,.565,.45,.35,.235,.13]],
  [273,304,["R5","R4","R3","R2","R1","P","S1"],[1.95,1.66,1.37,1.08,.83,.541,.29]],
  [304,334,["R5","R4","R3","R2","R1","P","S1","S2","S3"],[1.011,.909,.808,.707,.58,.478,.35,.246,.125]],
];

const redLevels: Pt[] = [[27,1.371],[213,.753],[-4,.311]];
const greenLevel = .15;
const lastPrice = .38017;
const redTrends: [Pt, Pt][] = [[[63,1.088],[341,.416]],[[153,.705],[295.3,.124]]];
const greenTrend: [Pt, Pt] = [[-4,.225],[341,.601]];

// start, apex, head left, head right
const greenArrows: Pt[][] = [
  [[301.8,1.567],[304.7,1.92],[302.9,1.896],[306.4,1.893]],
  [[299.9,1.213],[299.7,1.371],[297.6,1.338],[301.8,1.342]],
  [[299.7,1.371],[300.8,1.472],[298.6,1.447],[302.3,1.445]],
  [[296,.949],[297.7,1.144],[295.5,1.114],[299,1.114]],
  [[295,.76],[295.9,.89],[293.7,.856],[297.3,.856]],
  [[271.8,.457],[274.7,.67],[272.5,.645],[276.3,.642]],
];
const redArrows: Pt[][] = [
  [[208.8,.425],[213.2,.32],[211,.327],[214.1,.34]],
  [[213.2,.32],[216.7,.238],[213.8,.253],[217.2,.269]],
  [[216.7,.238],[221.5,.143],[218.6,.163],[222,.175]],
];

const timeTickDays = [0,14,31,43,59,77,90,105,120,133,151,168,181,196,212,224,243,259,273,287,304,322,334];
const timeTickLabels = ["2018","15","Feb","13","Mar","19","Apr","16","May","14","Jun","18","Jul","16","Aug","13","Sep","17","Oct","15","Nov","19","Dec"];
const priceTicks = [.15,.2,.25,.3,.35,.4,.45,.5,.55,.6,.65,.7,.75,.8,.85,.9,.95,1,1.05,1.1,1.15,1.2,1.25,1.3,1.35,1.4,1.45,1.5,1.55,1.6,1.65,1.7,1.75,1.8,1.85,1.9,1.95];

const W = 2290;
const H = 1464;
const left = 6.6;
const right = 2238;
const top = 43;
const bottom = 1407;
const frameBottom = 1433;

const UP = "#26a69a";
const DOWN = "#ef5350";
const FONT = "'Liberation Sans', Arial, sans-serif";

export default function App() {
  const ref = useRef<SVGSVGElement>(null);

  useEffect(() => {
    const x = d3.scaleLinear().domain([0, 334]).range([28.5, 2192.8]);
    const y = d3.scaleLinear().domain([.15, 1.95]).range([1386.6, 60]);

    const svg = d3.select(ref.current);
    svg.selectAll("*").remove();
    svg.append("rect").attr("width", W).attr("height", H).attr("fill", "#fff");

    const defs = svg.append("defs");
    defs.append("clipPath").attr("id", "plot").append("rect")
      .attr("x", left).attr("y", top).attr("width", right - left).attr("height", bottom - top);

    const below = d3.area<Pt>().x((d) => x(d[0])).y0(bottom + 300).y1((d) => y(d[1]));
    const above = d3.area<Pt>().x((d) => x(d[0])).y0(top - 300).y1((d) => y(d[1]));
    defs.append("clipPath").attr("id", "underA").append("path").attr("d", below(cloudLeadA)!);
    defs.append("clipPath").attr("id", "underB").append("path").attr("d", below(cloudLeadB)!);

    // grid
    const grid = svg.append("g").attr("stroke", "#eef3f5").attr("stroke-width", 1.2);
    priceTicks.forEach((p) => grid.append("line").attr("x1", left).attr("x2", right).attr("y1", y(p)).attr("y2", y(p)));
    timeTickDays.forEach((d) => grid.append("line").attr("x1", x(d)).attr("x2", x(d)).attr("y1", top).attr("y2", bottom));

    const plot = svg.append("g").attr("clip-path", "url(#plot)");

    const straight = d3.line<Pt>().x((d) => x(d[0])).y((d) => y(d[1]));
    const smooth = d3.line<Pt>().x((d) => x(d[0])).y((d) => y(d[1])).curve(d3.curveMonotoneX);

    // cloud
    plot.append("g").attr("clip-path", "url(#underB)").append("path")
      .attr("d", above(cloudLeadA)!).attr("fill", "#f44336").attr("opacity", .15);
    plot.append("g").attr("clip-path", "url(#underA)").append("path")
      .attr("d", above(cloudLeadB)!).attr("fill", "#4caf50").attr("opacity", .13);

    // bollinger fill
    const lowerBack = [...bollingerLower].reverse();
    plot.append("path").attr("d", straight([...bollingerUpper, ...lowerBack])! + "Z")
      .attr("fill", "#1f7a9a").attr("opacity", .055);

    // pivots
    pivotPeriods.forEach(([start, end, names, values]) => {
      values.forEach((v, i) => {
        plot.append("line").attr("x1", x(start - .4)).attr("x2", x(end - .1)).attr("y1", y(v)).attr("y2", y(v))
          .attr("stroke", "#f3b98e").attr("stroke-width", 1.3);
        if (names[i]) {
          plot.append("text").attr("x", x(start - .4) - 3).attr("y", y(v) + 5.5).attr("text-anchor", "end")
            .attr("font-family", FONT).attr("font-size", 13).attr("fill", "#dc8237").text(names[i]);
        }
      });
    });

    plot.append("line").attr("x1", left).attr("x2", right).attr("y1", y(lastPrice)).attr("y2", y(lastPrice))
      .attr("stroke", "#b5dfda").attr("stroke-width", 1.2);

    const draw = (pts: Pt[], color: string, width: number, gen = smooth) =>
      plot.append("path").attr("d", gen(pts)!).attr("fill", "none").attr("stroke", color)
        .attr("stroke-width", width).attr("stroke-linejoin", "round");

    draw(cloudLeadB, "#f2615f", 1.2, straight);
    draw(cloudLeadA, "#6aa56a", 1.2, straight);

    // lagging span: the closes, plotted 26 days back
    const lagging: Pt[] = candleClose.map((c, i) => [firstCandleDay + i - 26, c]);
    draw(lagging, "#8fbb7f", 1.3, straight);
    draw(baseLine, "#b4504e", 1.1, straight);

    // candles
    const candles = plot.append("g");
    candleClose.forEach((c, i) => {
      const o = candleOpen[i];
      const cx = x(firstCandleDay + i);
      const color = c >= o ? UP : DOWN;
      candles.append("line").attr("x1", cx).attr("x2", cx).attr("y1", y(candleHigh[i])).attr("y2", y(candleLow[i]))
        .attr("stroke", color).attr("stroke-width", 1);
      candles.append("rect").attr("x", cx - 2.4).attr("width", 4.8)
        .attr("y", y(Math.max(o, c))).attr("height", Math.max(1, Math.abs(y(o) - y(c)))).attr("fill", color);
    });

    draw(lightBlueLine, "#64b5f6", 1.2, straight);
    draw(bollingerUpper, "#1f5f7a", 2.4, straight);
    draw(bollingerLower, "#1f5f7a", 2.4, straight);
    draw(violetAverage, "#5050ee", 2.2);
    draw(oliveAverage, "#558b3f", 2.2);
    draw(salmonAverage, "#f0605e", 2.4);
    draw(blueUpper, "#0505e8", 2.5);
    draw(blueMiddle, "#0505e8", 2.5);
    draw(blueLower, "#0505e8", 2.5);

    slowAverage.slice(1).forEach((p, i) => {
      const prev = slowAverage[i];
      draw([prev, p], p[1] < prev[1] ? "#c81010" : "#10b510", 2.2, straight);
    });
    draw(limeAverage, "#00e600", 2.5);
    draw(yellowAverage, "#ffee00", 2.5);
    draw(fastRed, "#f50000", 2.5);
    draw(zigzag, "#6f8f2f", 1.5, straight);

    // parabolic dots
    const cross = d3.symbol().type(d3.symbolCross).size(9);
    sarRuns.forEach(([start, values]) => {
      values.forEach((v, i) => {
        plot.append("path").attr("d", cross()!).attr("fill", "#33769f")
          .attr("transform", `translate(${x(start + i)},${y(v)})`);
      });
    });

    // peak and trough labels
    const tag = (pt: Pt, up: boolean) => {
      const [d, p] = pt;
      const cx = x(d);
      const cy = y(p);
      const g = plot.append("g");
      const bx = up ? cy - 17 : cy + 6;
      g.append("path")
        .attr("d", up ? `M${cx},${cy - 1}l-5,-6h10z` : `M${cx},${cy + 1}l-5,6h10z`)
        .attr("fill", "#eef6d2").attr("stroke", "#b9cf94");
      g.append("rect").attr("x", cx - 20).attr("y", bx).attr("width", 40).attr("height", 11.5)
        .attr("fill", "#eef6d2").attr("stroke", "#b9cf94");
      g.append("text").attr("x", cx).attr("y", bx + 9.8).attr("text-anchor", "middle")
        .attr("textLength", 35.5).attr("lengthAdjust", "spacingAndGlyphs")
        .attr("font-family", FONT).attr("font-size", 11.5).attr("fill", "#333").text(p.toFixed(5));
    };
    peakLabels.forEach((p) => tag(p, true));
    troughLabels.forEach((p) => tag(p, false));

    // gray bands
    zones.forEach(([lo, hi]) => {
      plot.append("rect").attr("x", left).attr("width", right - left).attr("y", y(hi)).attr("height", y(lo) - y(hi))
        .attr("fill", "#787b86").attr("opacity", .33);
      [lo, hi].forEach((v) => plot.append("line").attr("x1", left).attr("x2", right).attr("y1", y(v)).attr("y2", y(v))
        .attr("stroke", "#9a9a9a").attr("stroke-width", 1.4));
    });

    // drawn levels and trend lines
    redLevels.forEach(([d, p]) => draw([[d, p], [341, p]], "#ff0000", 2.4, straight));
    draw([[-4, greenLevel], [341, greenLevel]], "#00ff00", 2.4, straight);
    redTrends.forEach((t) => draw(t, "#ff0000", 2.5, straight));
    draw(greenTrend, "#00ff00", 2.5, straight);

    // short dashes; the head strokes start at their outer end
    const arrow = (a: Pt[], color: string) => {
      [[a[0], a[1]], [a[2], a[1]], [a[3], a[1]]].forEach((seg) => {
        draw(seg as Pt[], color, 2.5, straight).attr("stroke-dasharray", "10,13");
      });
    };
    greenArrows.forEach((a) => arrow(a, "#00ff00"));
    redArrows.forEach((a) => arrow(a, "#ff0000"));

    // volume pill, cut off by the plot edge
    plot.append("rect").attr("x", -10).attr("y", 57).attr("width", 84).attr("height", 21).attr("rx", 3).attr("fill", "#6085bd");
    plot.append("text").attr("x", 7).attr("y", 72.5).attr("font-family", FONT).attr("font-size", 14)
      .attr("fill", "#fff").attr("textLength", 61).attr("lengthAdjust", "spacingAndGlyphs").text("%) 309440");

    // axes
    const yAxis = d3.axisRight(y).tickValues(priceTicks).tickFormat(d3.format(".5f") as any).tickSize(5);
    const yG = svg.append("g").attr("transform", `translate(${right},0)`).call(yAxis);
    yG.select(".domain").remove();
    yG.selectAll("line").attr("stroke", "#555");
    yG.selectAll("text").attr("font-family", FONT).attr("font-size", 12.5).attr("fill", "#555")
      .attr("textLength", 40).attr("lengthAdjust", "spacingAndGlyphs").attr("x", 7);

    const xAxis = d3.axisBottom(x).tickValues(timeTickDays)
      .tickFormat((_, i) => timeTickLabels[i]).tickSize(5);
    const xG = svg.append("g").attr("transform", `translate(0,${bottom})`).call(xAxis);
    xG.select(".domain").remove();
    xG.selectAll("line").attr("stroke", "#555");
    xG.selectAll("text").attr("font-family", FONT).attr("font-size", 12).attr("fill", "#555").attr("y", 8);

    // frame
    svg.append("rect").attr("x", left).attr("y", top).attr("width", W - left - 1).attr("height", frameBottom - top)
      .attr("fill", "none").attr("stroke", "#555").attr("stroke-width", 1.5);
    svg.append("line").attr("x1", right).attr("x2", right).attr("y1", top).attr("y2", bottom).attr("stroke", "#555").attr("stroke-width", 1.5);
    svg.append("line").attr("x1", left).attr("x2", right).attr("y1", bottom).attr("y2", bottom).attr("stroke", "#555").attr("stroke-width", 1.5);

    // last price box
    svg.append("rect").attr("x", right).attr("y", y(lastPrice) - 8.5).attr("width", W - right).attr("height", 17).attr("fill", UP);
    svg.append("text").attr("x", right + 7).attr("y", y(lastPrice) + 4.5).attr("font-family", FONT).attr("font-size", 12.5)
      .attr("fill", "#fff").attr("textLength", 40).attr("lengthAdjust", "spacingAndGlyphs").text("0.38017");

    // header
    const head = (tx: string, px: number, len: number, py: number, color: string, bold = false) =>
      svg.append("text").attr("x", px).attr("y", py).attr("font-family", FONT).attr("font-size", 13)
        .attr("font-weight", bold ? 600 : 400).attr("fill", color)
        .attr("textLength", len).attr("lengthAdjust", "spacingAndGlyphs").text(tx);
    head("TradingschuleKryptologen", 6, 157, 17, "#4aa8e0");
    head("published on TradingView.com, November 28, 2018 08:28 UTC", 166, 352, 17, "#333");
    head("BITFINEX:XRPUSD, 1D", 6, 128, 34.5, "#222", true);
    head("0.38017", 139, 46, 34.5, "#333");
    svg.append("path").attr("d", "M188,34.5l5.5,-10l5.5,10z").attr("fill", "#1fb11f");
    head("+0.01399 (+3.82%)", 202, 106, 34.5, "#333");
    head("O:", 312, 13, 34.5, "#222", true);
    head("0.36606", 326, 46, 34.5, "#1fb11f");
    head("H:", 376, 13, 34.5, "#222", true);
    head("0.38900", 390, 46, 34.5, "#1fb11f");
    head("L:", 440, 10, 34.5, "#222", true);
    head("0.36606", 451, 46, 34.5, "#1fb11f");
    head("C:", 501, 11, 34.5, "#222", true);
    head("0.38017", 513, 46, 34.5, "#1fb11f");

    // footer
    head("Created with", 6, 73, 1453, "#333");
    svg.append("path").attr("d", "M88,1452 q2,-7 8,-6 q4,-5 9,-1 q6,0 7,7 z").attr("fill", "#7fc1ea");
    head("TradingView", 118, 71, 1453, "#4aa8e0");
  }, []);

  return (
    <div style={{ position: "fixed", left: 0, top: 0 }}>
      <svg ref={ref} width={W} height={H} style={{ display: "block" }} />
    </div>
  );
}
